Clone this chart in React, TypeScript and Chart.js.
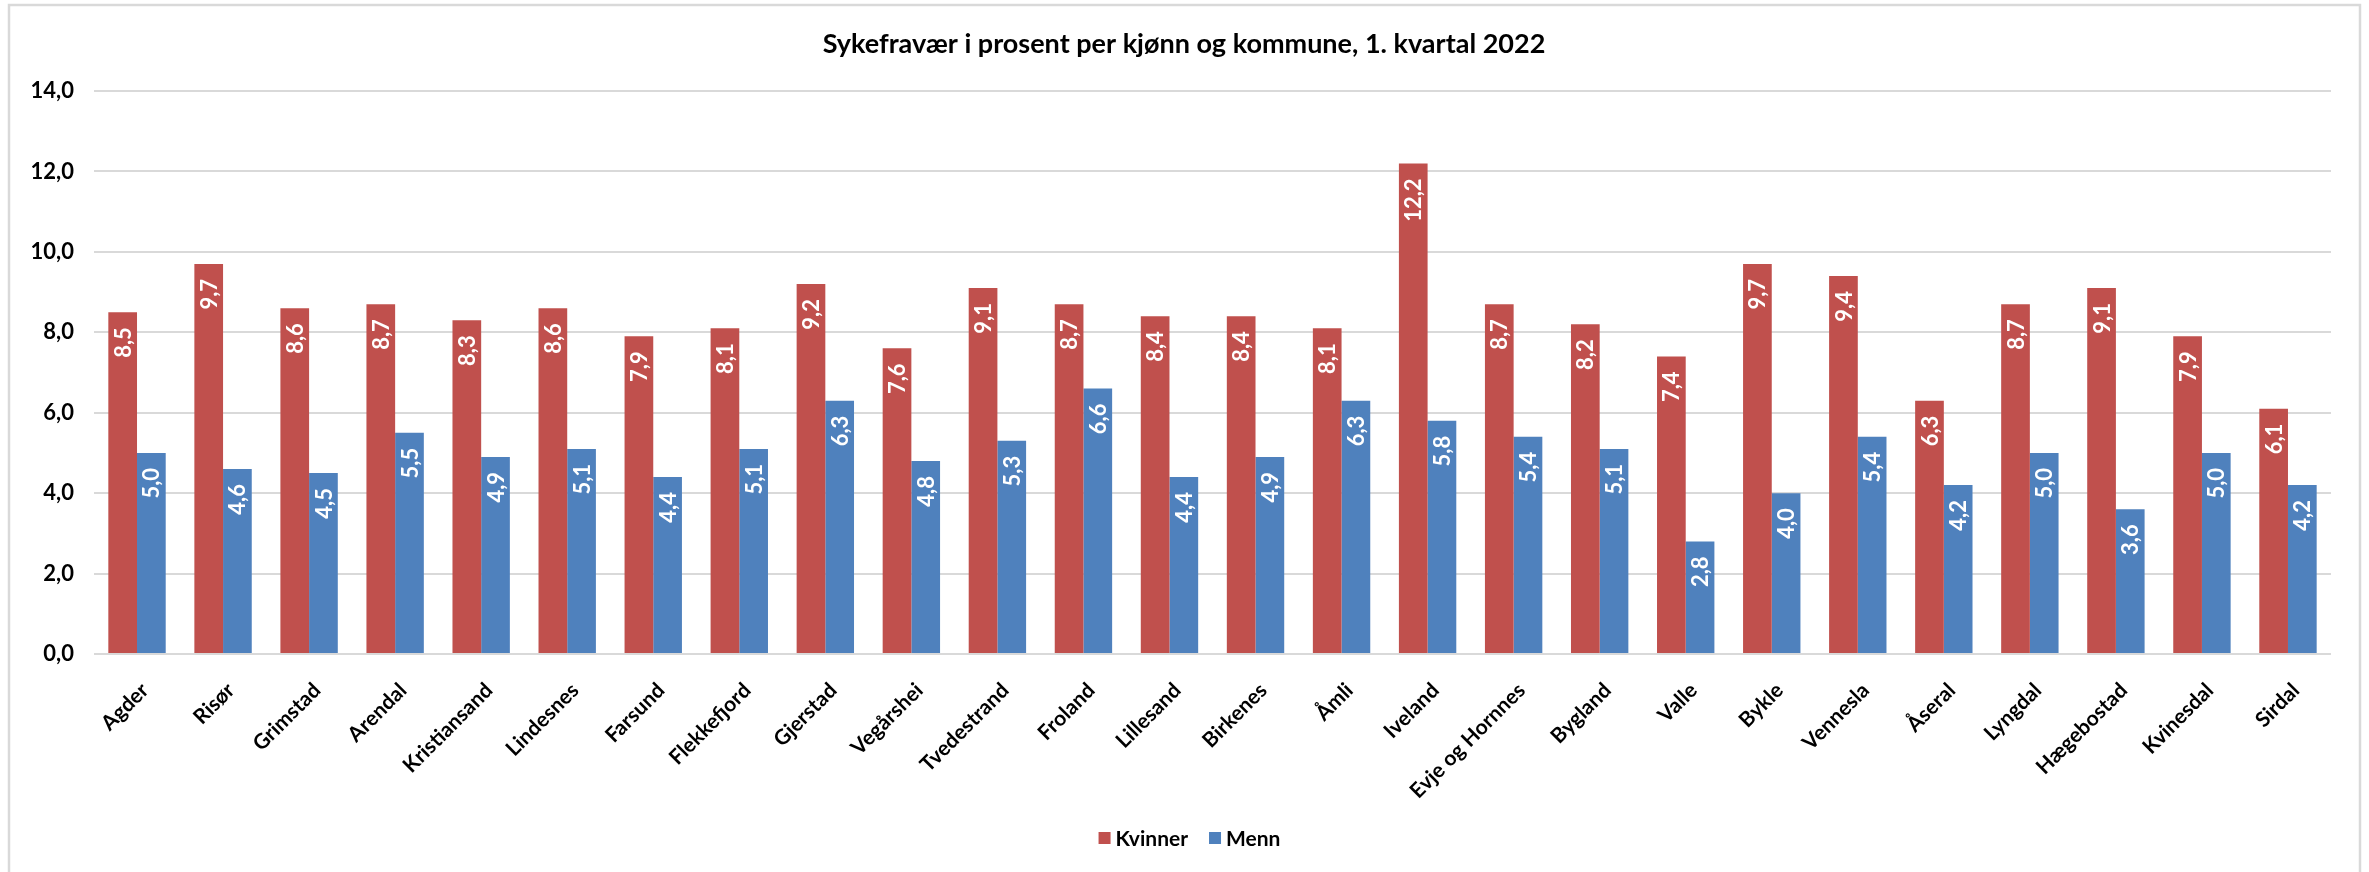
import React, { useEffect, useRef } from 'react';
import { Chart, registerables } from 'chart.js';

Chart.register(...registerables);

const chartTitle = 'Sykefravær i prosent per kjønn og kommune, 1. kvartal 2022';

const categories = [
  'Agder', 'Risør', 'Grimstad', 'Arendal', 'Kristiansand', 'Lindesnes', 'Farsund',
  'Flekkefjord', 'Gjerstad', 'Vegårshei', 'Tvedestrand', 'Froland', 'Lillesand',
  'Birkenes', 'Åmli', 'Iveland', 'Evje og Hornnes', 'Bygland', 'Valle', 'Bykle',
  'Vennesla', 'Åseral', 'Lyngdal', 'Hægebostad', 'Kvinesdal', 'Sirdal',
];

const kvinner = [8.5, 9.7, 8.6, 8.7, 8.3, 8.6, 7.9, 8.1, 9.2, 7.6, 9.1, 8.7, 8.4, 8.4, 8.1, 12.2, 8.7, 8.2, 7.4, 9.7, 9.4, 6.3, 8.7, 9.1, 7.9, 6.1];
const menn = [5.0, 4.6, 4.5, 5.5, 4.9, 5.1, 4.4, 5.1, 6.3, 4.8, 5.3, 6.6, 4.4, 4.9, 6.3, 5.8, 5.4, 5.1, 2.8, 4.0, 5.4, 4.2, 5.0, 3.6, 5.0, 4.2];

const seriesNames = ['Kvinner', 'Menn'];
const seriesColors = ['#C0504D', '#4F81BD'];

const yMin = 0;
const yMax = 14;
const yStep = 2;

const W = 2369;
const H = 872;
const FONT = 'Lato, "Noto Sans", "DejaVu Sans", sans-serif';

const fmt = (v: number) => v.toFixed(1).replace('.', ',');

const framePlugin = {
  id: 'frame',
  beforeDraw(chart: any) {
    const ctx = chart.ctx;
    ctx.save();
    ctx.fillStyle = '#ffffff';
    ctx.fillRect(0, 0, chart.width, chart.height);
    ctx.strokeStyle = '#D9D9D9';
    ctx.lineWidth = 2.5;
    ctx.beginPath();
    ctx.moveTo(9, chart.height + 5);
    ctx.lineTo(9, 5);
    ctx.lineTo(2360, 5);
    ctx.lineTo(2360, chart.height + 5);
    ctx.stroke();
    ctx.restore();
  },
};

const titlePlugin = {
  id: 'customTitle',
  afterDraw(chart: any) {
    const ctx = chart.ctx;
    ctx.save();
    ctx.fillStyle = '#000000';
    ctx.font = `bold 27px ${FONT}`;
    ctx.textAlign = 'center';
    ctx.textBaseline = 'middle';
    ctx.fillText(chartTitle, 1184, 44);
    ctx.restore();
  },
};

const dataLabelPlugin = {
  id: 'dataLabels',
  afterDatasetsDraw(chart: any) {
    const ctx = chart.ctx;
    ctx.save();
    ctx.fillStyle = '#ffffff';
    ctx.font = `bold 22px ${FONT}`;
    ctx.textAlign = 'right';
    ctx.textBaseline = 'middle';
    chart.data.datasets.forEach((ds: any, di: number) => {
      const meta = chart.getDatasetMeta(di);
      meta.data.forEach((el: any, i: number) => {
        const v = ds.data[i];
        ctx.save();
        ctx.translate(el.x, el.y + 15);
        ctx.rotate(-Math.PI / 2);
        ctx.fillText(fmt(v), 0, 1);
        ctx.restore();
      });
    });
    ctx.restore();
  },
};

const legendPlugin = {
  id: 'customLegend',
  afterDraw(chart: any) {
    const ctx = chart.ctx;
    ctx.save();
    ctx.font = `bold 21px ${FONT}`;
    ctx.textBaseline = 'middle';
    ctx.textAlign = 'left';
    const box = 12;
    const gapBoxText = 5;
    const gapItems = 21;
    const items = chart.data.datasets.map((ds: any) => ({
      label: ds.label,
      color: ds.backgroundColor,
      w: ctx.measureText(ds.label).width,
    }));
    const total = items.reduce((s: number, it: any) => s + box + gapBoxText + it.w, 0) + gapItems * (items.length - 1);
    let x = 1189.5 - total / 2;
    const cy = 838;
    items.forEach((it: any) => {
      ctx.fillStyle = it.color;
      ctx.fillRect(x, cy - box / 2, box, box);
      x += box + gapBoxText;
      ctx.fillStyle = '#000000';
      ctx.fillText(it.label, x, cy + 1);
      x += it.w + gapItems;
    });
    ctx.restore();
  },
};

export default function App() {
  const ref = useRef<HTMLCanvasElement | null>(null);

  useEffect(() => {
    if (!ref.current) return;
    const chart = new Chart(ref.current, {
      type: 'bar',
      data: {
        labels: categories,
        datasets: [
          { label: seriesNames[0], data: kvinner, backgroundColor: seriesColors[0], borderWidth: 0 },
          { label: seriesNames[1], data: menn, backgroundColor: seriesColors[1], borderWidth: 0 },
        ],
      },
      options: {
        responsive: false,
        animation: false,
        devicePixelRatio: 1,
        layout: { padding: { top: 91, right: 38, left: 0, bottom: 0 } },
        datasets: { bar: { categoryPercentage: 0.667, barPercentage: 1.0 } },
        plugins: {
          legend: { display: false },
          title: { display: false },
          tooltip: { enabled: false },
        },
        scales: {
          x: {
            grid: { display: false },
            border: { display: false },
            ticks: {
              autoSkip: false,
              minRotation: 45,
              maxRotation: 45,
              color: '#000000',
              font: { family: FONT, size: 21, weight: 'bold' },
              padding: 16,
              labelOffset: 8,
            },
            afterFit: (s: any) => { s.height = H - 654; },
          },
          y: {
            min: yMin,
            max: yMax,
            grid: { color: '#D9D9D9', lineWidth: 2, drawTicks: false },
            border: { display: false },
            ticks: {
              stepSize: yStep,
              color: '#000000',
              font: { family: FONT, size: 22, weight: 'bold' },
              padding: 20,
              callback: (v: any) => fmt(Number(v)),
            },
            afterFit: (s: any) => { s.width = 94; },
          },
        },
      },
      plugins: [framePlugin, titlePlugin, dataLabelPlugin, legendPlugin],
    });
    return () => chart.destroy();
  }, []);

  return (
    <div style={{ position: 'absolute', left: 0, top: 0, width: W, height: H }}>
      <canvas ref={ref} width={W} height={H} style={{ width: W, height: H, display: 'block' }} />
    </div>
  );
}
